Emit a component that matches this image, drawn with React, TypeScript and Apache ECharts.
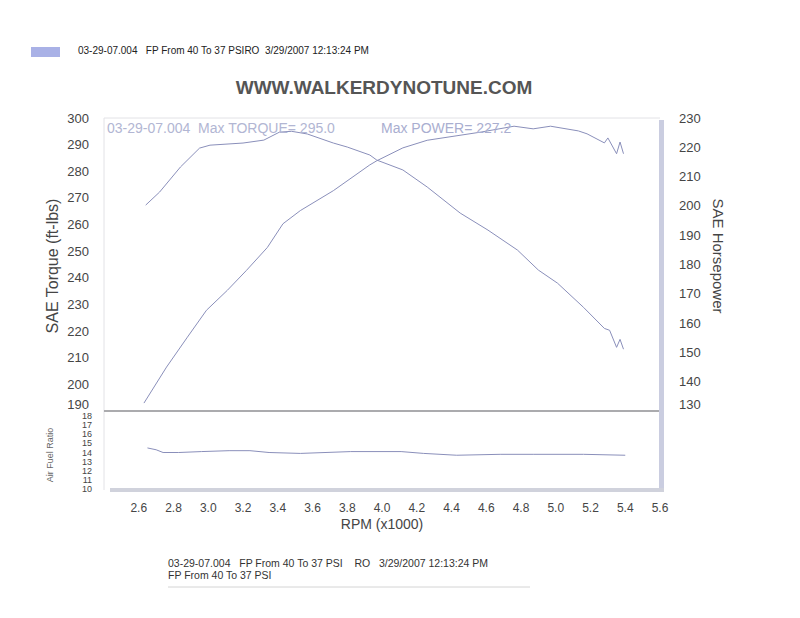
import React, { useEffect, useRef } from "react";
import * as echarts from "echarts";

// ---- data ----
const rpmTorque = [2.64, 2.72, 2.84, 2.95, 3.01, 3.2, 3.32, 3.41, 3.48, 3.57, 3.72, 3.8, 3.93, 3.97, 4.12, 4.26, 4.45, 4.61, 4.78, 4.9, 5.01, 5.16, 5.28, 5.31, 5.35, 5.37, 5.39];
const torque = [267.3, 272.2, 281.6, 288.7, 289.8, 290.6, 291.7, 294.7, 295.0, 294.0, 290.6, 289.1, 286.1, 284.2, 280.5, 274.1, 264.3, 257.9, 250.4, 242.9, 238.0, 228.9, 221.0, 220.3, 213.9, 216.9, 213.2];

const rpmPower = [2.63, 2.76, 2.88, 2.99, 3.11, 3.22, 3.34, 3.43, 3.53, 3.72, 3.93, 3.97, 4.12, 4.26, 4.57, 4.76, 4.87, 4.97, 5.13, 5.18, 5.28, 5.3, 5.35, 5.37, 5.39];
const power = [132.7, 145.0, 155.2, 164.4, 171.2, 178.0, 185.8, 193.9, 198.4, 205.2, 214.0, 215.4, 219.8, 222.4, 225.2, 227.2, 226.3, 227.2, 225.6, 224.6, 221.5, 223.2, 217.8, 221.8, 217.8];

const rpmAfr = [2.65, 2.7, 2.74, 2.83, 2.96, 3.12, 3.24, 3.35, 3.53, 3.82, 4.11, 4.24, 4.43, 4.68, 4.87, 5.16, 5.4];
const afr = [14.5, 14.3, 14.0, 14.0, 14.1, 14.2, 14.2, 14.0, 13.9, 14.1, 14.1, 13.9, 13.7, 13.8, 13.8, 13.8, 13.7];

const rpmRange = [2.4, 5.6];
const torqueRange = [190, 300];
const powerRange = [130, 230];
const afrRange = [10, 18];

const headerText = "03-29-07.004   FP From 40 To 37 PSIRO  3/29/2007 12:13:24 PM";
const titleText = "WWW.WALKERDYNOTUNE.COM";
const torqueNote = "03-29-07.004  Max TORQUE= 295.0";
const powerNote = "Max POWER= 227.2";
const footer1 = "03-29-07.004   FP From 40 To 37 PSI    RO   3/29/2007 12:13:24 PM";
const footer2 = "FP From 40 To 37 PSI";

const FONT = "'Liberation Sans', Arial, sans-serif";
const LINE = "#8a8fba";
const LABEL = "#454545";

const pairs = (xs: number[], ys: number[]) => xs.map((x, i) => [x, ys[i]]);

export default function App() {
  const ref = useRef<HTMLDivElement>(null);
  useEffect(() => {
    if (!ref.current) return;
    const chart = echarts.init(ref.current, undefined, { renderer: "svg" });
    const L = 104, R = 660, T0 = 118, B0 = 411, T1 = 416, B1 = 489;
    const xAxisBase = {
      type: "value" as const,
      min: rpmRange[0],
      max: rpmRange[1],
      interval: 0.2,
      axisTick: { show: false },
      splitLine: { show: false },
      axisLine: { show: false },
    };
    chart.setOption({
      animation: false,
      backgroundColor: "#ffffff",
      grid: [
        { left: L, width: R - L, top: T0, height: B0 - T0 },
        { left: L, width: R - L, top: T1, height: B1 - T1 },
      ],
      xAxis: [
        { ...xAxisBase, gridIndex: 0, axisLabel: { show: false } },
        {
          ...xAxisBase,
          gridIndex: 1,
          axisLabel: {
            show: true,
            margin: 13,
            fontSize: 12,
            color: LABEL,
            fontFamily: FONT,
            formatter: (v: number) => (v < 2.5 ? "" : v.toFixed(1)),
          },
        },
      ],
      yAxis: [
        {
          type: "value",
          gridIndex: 0,
          position: "left",
          min: torqueRange[0],
          max: torqueRange[1],
          interval: 10,
          axisTick: { show: false },
          splitLine: { show: false },
          axisLine: { show: false },
          axisLabel: { margin: 15, fontSize: 13, color: LABEL, fontFamily: FONT, verticalAlignMinLabel: "bottom" },
        },
        {
          type: "value",
          gridIndex: 0,
          position: "right",
          min: powerRange[0],
          max: powerRange[1],
          interval: 10,
          axisTick: { show: false },
          splitLine: { show: false },
          axisLine: { show: false },
          axisLabel: { margin: 19, fontSize: 13, color: LABEL, fontFamily: FONT, verticalAlignMinLabel: "bottom" },
        },
        {
          type: "value",
          gridIndex: 1,
          position: "left",
          min: afrRange[0],
          max: afrRange[1],
          interval: 1,
          axisTick: { show: false },
          splitLine: { show: false },
          axisLine: { show: false },
          axisLabel: {
            margin: 12,
            fontSize: 9,
            lineHeight: 9,
            color: LABEL,
            fontFamily: FONT,
            showMinLabel: true,
            showMaxLabel: true,
          },
        },
      ],
      series: [
        {
          name: "Torque",
          type: "line",
          xAxisIndex: 0,
          yAxisIndex: 0,
          data: pairs(rpmTorque, torque),
          showSymbol: false,
          lineStyle: { color: LINE, width: 1 },
          z: 5,
        },
        {
          name: "Power",
          type: "line",
          xAxisIndex: 0,
          yAxisIndex: 1,
          data: pairs(rpmPower, power),
          showSymbol: false,
          lineStyle: { color: LINE, width: 1 },
          z: 5,
        },
        {
          name: "AFR",
          type: "line",
          xAxisIndex: 1,
          yAxisIndex: 2,
          data: pairs(rpmAfr, afr),
          showSymbol: false,
          lineStyle: { color: LINE, width: 1 },
          z: 5,
        },
      ],
      graphic: [
        // frame
        { type: "line", shape: { x1: L, y1: T0, x2: R, y2: T0 }, style: { stroke: "#e2e2e6", lineWidth: 1 } },
        { type: "line", shape: { x1: L, y1: T0, x2: L, y2: 490 }, style: { stroke: "#e2e2e6", lineWidth: 1 } },
        { type: "line", shape: { x1: L, y1: B0, x2: R + 2, y2: B0 }, style: { stroke: "#ababae", lineWidth: 2 } },
        { type: "rect", shape: { x: 659, y: 120, width: 5, height: 371 }, style: { fill: "#cacde0" } },
        { type: "rect", shape: { x: 110, y: 488, width: 554, height: 4 }, style: { fill: "#d0d2dc" } },
        // header
        { type: "rect", shape: { x: 31, y: 47, width: 29, height: 10 }, style: { fill: "#a9b1e6" } },
        { type: "text", x: 78, y: 50, style: { text: headerText, fontSize: 10, fontFamily: FONT, fill: "#222", align: "left", verticalAlign: "middle" } },
        { type: "text", x: 384, y: 87, style: { text: titleText, fontSize: 19, fontWeight: "bold", fontFamily: FONT, fill: "#555", align: "center", verticalAlign: "middle" } },
        // notes
        { type: "text", x: 107, y: 128, z: 10, style: { text: torqueNote, fontSize: 14, fontFamily: FONT, fill: "#b2b6d3", align: "left", verticalAlign: "middle" } },
        { type: "text", x: 381, y: 128, z: 10, style: { text: powerNote, fontSize: 14, fontFamily: FONT, fill: "#a9aed0", align: "left", verticalAlign: "middle" } },
        // axis names
        { type: "text", x: 52, y: 266, rotation: Math.PI / 2, style: { text: "SAE Torque (ft-lbs)", fontSize: 16, fontFamily: FONT, fill: LABEL, align: "center", verticalAlign: "middle" } },
        { type: "text", x: 718, y: 256, rotation: -Math.PI / 2, style: { text: "SAE Horsepower", fontSize: 15, fontFamily: FONT, fill: LABEL, align: "center", verticalAlign: "middle" } },
        { type: "text", x: 50, y: 455, rotation: Math.PI / 2, style: { text: "Air Fuel Ratio", fontSize: 9, fontFamily: FONT, fill: "#666", align: "center", verticalAlign: "middle" } },
        { type: "text", x: 382, y: 524, style: { text: "RPM (x1000)", fontSize: 14, fontFamily: FONT, fill: LABEL, align: "center", verticalAlign: "middle" } },
        // footer
        { type: "text", x: 168, y: 563, style: { text: footer1, fontSize: 10.5, fontFamily: FONT, fill: "#333", align: "left", verticalAlign: "middle" } },
        { type: "text", x: 168, y: 575, style: { text: footer2, fontSize: 10.5, fontFamily: FONT, fill: "#333", align: "left", verticalAlign: "middle" } },
        { type: "line", shape: { x1: 168, y1: 587, x2: 530, y2: 587 }, style: { stroke: "#d4d4d4", lineWidth: 1 } },
      ],
    });
    return () => chart.dispose();
  }, []);
  return (
    <div
      ref={ref}
      style={{ position: "absolute", left: 0, top: 0, width: 800, height: 618, background: "#fff" }}
    />
  );
}
